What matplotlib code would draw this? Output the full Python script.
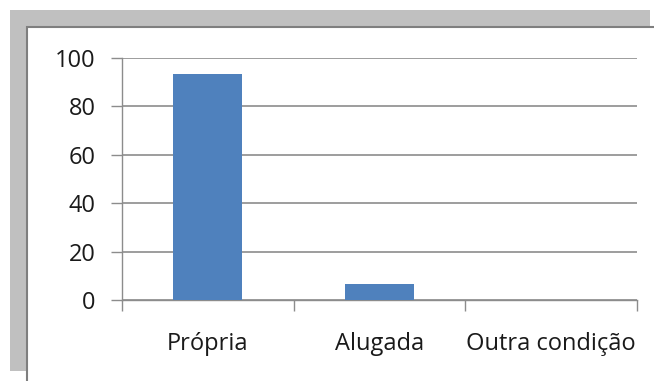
import matplotlib.pyplot as plt
from matplotlib.patches import Rectangle

categorias = ["Própria", "Alugada", "Outra condição"]
valores = [93.3, 6.6, 0.0]
yticks = [0, 20, 40, 60, 80, 100]

plt.rcParams['font.family'] = ['Open Sans', 'DejaVu Sans']

W, H = 654, 381
fig = plt.figure(figsize=(W / 100, H / 100), dpi=100)
fig.patch.set_facecolor('white')

def px_rect(x0, y0, x1, y1, **kw):
    # rectangle given in pixel coordinates from the top-left corner
    return Rectangle((x0 / W, 1 - y1 / H), (x1 - x0) / W, (y1 - y0) / H,
                     transform=fig.transFigure, **kw)

# shadow frame and chart area
fig.patches.append(px_rect(10, 10, 650, 371, facecolor='#c0c0c0', edgecolor='none', zorder=0))
fig.patches.append(px_rect(27, 27, 660, 390, facecolor='white', edgecolor='#7f7f7f',
                           linewidth=1.5, zorder=1))

ax = fig.add_axes([122 / W, 1 - 300 / H, (637 - 122) / W, (300 - 58) / H])
ax.set_facecolor('none')
ax.set_zorder(2)

x = range(len(categorias))
ax.bar(x, valores, width=0.4, color='#4f81bd', zorder=3)

ax.set_xlim(-0.5, len(categorias) - 0.5)
ax.set_ylim(0, 100)
ax.set_yticks(yticks)
ax.set_yticklabels([str(v) for v in yticks], fontsize=17, color='#1a1a1a')
ax.yaxis.grid(True, color='#8c8c8c', linewidth=1.2, zorder=0)
ax.set_axisbelow(True)

# category labels centred, ticks at category boundaries
ax.set_xticks(list(x))
ax.set_xticklabels(categorias, fontsize=17, color='#1a1a1a')
ax.tick_params(axis='x', which='major', length=0, pad=23)
ax.set_xticks([-0.5, 0.5, 1.5, 2.5], minor=True)
ax.tick_params(axis='x', which='minor', length=8, color='#8c8c8c', width=1)
ax.tick_params(axis='y', length=8, color='#8c8c8c', width=1, pad=11)

for s in ['top', 'right']:
    ax.spines[s].set_visible(False)
for s in ['left', 'bottom']:
    ax.spines[s].set_color('#8c8c8c')
    ax.spines[s].set_linewidth(1)

fig.savefig('out.png', dpi=100)
